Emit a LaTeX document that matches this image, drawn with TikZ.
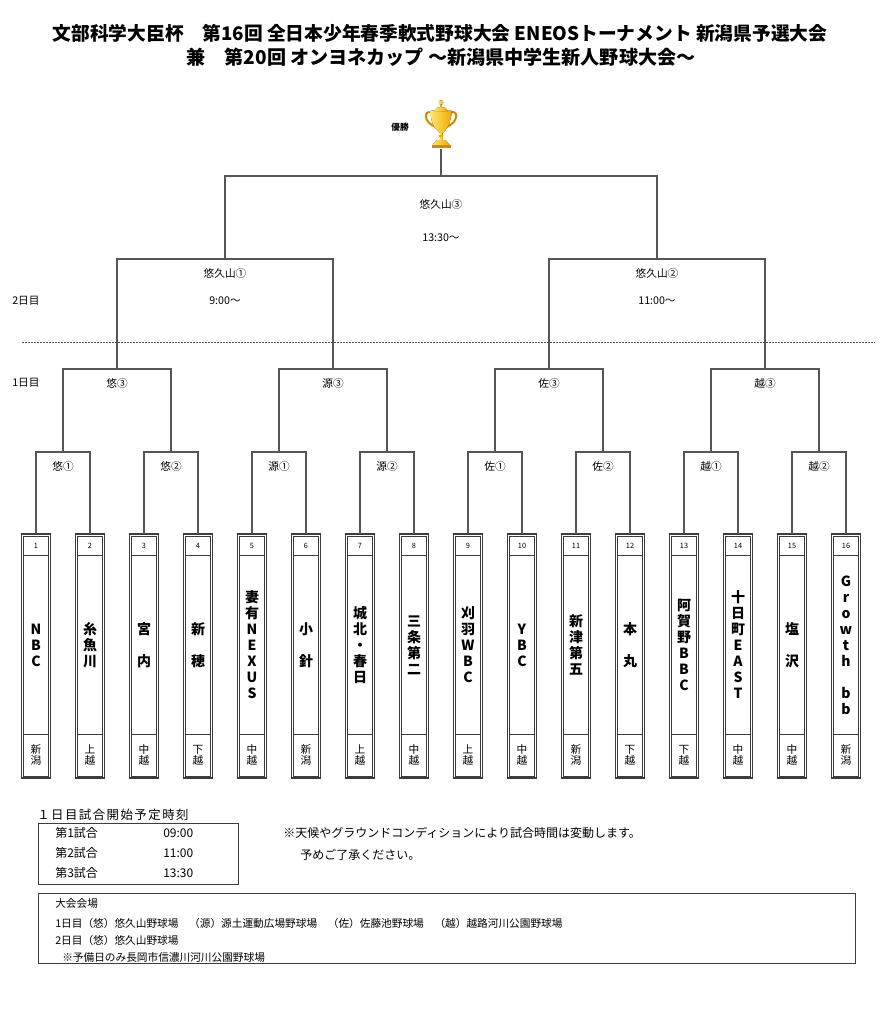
\documentclass[tikz,border=0pt]{standalone}
\usepackage{fontspec}
\setmainfont{Noto Sans CJK JP}
\definecolor{brk}{RGB}{85,85,85}
\definecolor{boxc}{RGB}{60,60,60}
\definecolor{goldA}{RGB}{255,228,110}
\definecolor{goldB}{RGB}{240,170,0}
\definecolor{goldC}{RGB}{215,135,0}
\tikzset{
 brline/.style={draw=brk, line width=1.1pt},
 tbox/.style={draw=boxc, line width=0.8pt, minimum width=21.75pt, minimum height=183pt, inner sep=0pt, outer sep=0pt},
 tinner/.style={draw=boxc, line width=0.6pt},
 tnum/.style={font=\fontsize{5.5}{6}\selectfont, inner sep=0pt},
 tname/.style={font=\bfseries\fontsize{10.5}{12}\selectfont, align=center, inner sep=0pt},
 tarea/.style={font=\fontsize{8}{8.3}\selectfont, align=center, inner sep=0pt},
 lbl/.style={font=\fontsize{8}{9}\selectfont, inner sep=0pt},
 ttl/.style={font=\bfseries\fontsize{14.3}{16}\selectfont, inner sep=0pt},
 btext/.style={font=\fontsize{9}{10}\selectfont, inner sep=0pt, anchor=west},
 boxframe/.style={draw=boxc, line width=0.75pt, inner sep=0pt},
 goldfill/.style={left color=goldA, right color=goldB, draw=none},
}
\newcommand\teamcell[4]{%
  \node[tbox] (b#1) at (#2,656) {};
  \draw[tinner] (#2-12.5,536) rectangle (#2+12.5,776);
  \draw[tinner] (#2-12.5,555) -- (#2+12.5,555) (#2-12.5,734) -- (#2+12.5,734);
  \node[tnum] (n#1) at (#2,545.5) {#1};
  \node[tname] (t#1) at (#2,645) {#3};
  \node[tarea] (a#1) at (#2,755) {#4};
}
\begin{document}
\begin{tikzpicture}[x=0.75pt,y=-0.75pt]
\useasboundingbox[fill=white] (0,0) rectangle (887,1021);

% title
\node[ttl, font=\bfseries\fontsize{14.05}{16}\selectfont] (title1) at (440,33) {文部科学大臣杯　第16回 全日本少年春季軟式野球大会 ENEOSトーナメント 新潟県予選大会};
\node[ttl] (title2) at (441,57) {兼　第20回 オンヨネカップ ～新潟県中学生新人野球大会～};

% trophy
\node[inner sep=0pt, minimum width=24pt, minimum height=36.75pt] (cup) at (441,124.5) {};
\draw[goldC, line width=1.5pt] (433,113) .. controls (423,108) and (423,123) .. (436,127);
\draw[goldC, line width=1.5pt] (449,113) .. controls (459,108) and (459,123) .. (446,127);
\fill[goldfill] (430.5,110.5) -- (451.5,110.5) .. controls (451.5,124) and (446,130) .. (442.5,133) -- (439.5,133) .. controls (436,130) and (430.5,124) .. (430.5,110.5) -- cycle;
\fill[goldfill] (434,111) .. controls (435,105.5) and (447,105.5) .. (448,111) -- cycle;
\fill[goldB] (440,103) rectangle (442,107);
\fill[goldfill] (441,102.5) circle (2.3);
\fill[goldfill] (439.5,133) rectangle (442.5,140);
\fill[goldB] (441,136) ellipse (2.5 and 1.2);
\fill[goldfill] (436.5,140) -- (445.5,140) -- (449.5,145) -- (432.5,145) -- cycle;
\fill[goldC] (431.5,145) rectangle (450.5,147.5);
\node[font=\bfseries\fontsize{6.5}{7}\selectfont, inner sep=0pt] (yusho) at (400,127) {優勝};

% round labels
\node[lbl] (lf) at (441,204) {悠久山③};
\node[lbl] (lft) at (441,238) {13:30～};
\node[lbl] (ls1) at (225,273) {悠久山①};
\node[lbl] (ls1t) at (225,301) {9:00～};
\node[lbl] (ls2) at (657,273) {悠久山②};
\node[lbl] (ls2t) at (657,301) {11:00～};
\node[lbl, anchor=west] (day2) at (12,301) {2日目};
\node[lbl, anchor=west] (day1) at (12,383) {1日目};
\draw[brk, line width=0.6pt, dash pattern=on 1.5pt off 0.75pt] (22,342) -- (875,342);

\node[lbl] (lq1) at (117,383) {悠③};
\node[lbl] (lq2) at (333,383) {源③};
\node[lbl] (lq3) at (549,383) {佐③};
\node[lbl] (lq4) at (765,383) {越③};
\node[lbl] (lm1) at (63,466) {悠①};
\node[lbl] (lm2) at (171,466) {悠②};
\node[lbl] (lm3) at (279,466) {源①};
\node[lbl] (lm4) at (387,466) {源②};
\node[lbl] (lm5) at (495,466) {佐①};
\node[lbl] (lm6) at (603,466) {佐②};
\node[lbl] (lm7) at (711,466) {越①};
\node[lbl] (lm8) at (819,466) {越②};

% teams
\teamcell{1}{36}{N\\B\\C}{新\\潟}
\teamcell{2}{90}{糸\\魚\\川}{上\\越}
\teamcell{3}{144}{宮\\\mbox{}\\内}{中\\越}
\teamcell{4}{198}{新\\\mbox{}\\穂}{下\\越}
\teamcell{5}{252}{妻\\有\\N\\E\\X\\U\\S}{中\\越}
\teamcell{6}{306}{小\\\mbox{}\\針}{新\\潟}
\teamcell{7}{360}{城\\北\\・\\春\\日}{上\\越}
\teamcell{8}{414}{三\\条\\第\\二}{中\\越}
\teamcell{9}{468}{刈\\羽\\W\\B\\C}{上\\越}
\teamcell{10}{522}{Y\\B\\C}{中\\越}
\teamcell{11}{576}{新\\津\\第\\五}{新\\潟}
\teamcell{12}{630}{本\\\mbox{}\\丸}{下\\越}
\teamcell{13}{684}{阿\\賀\\野\\B\\B\\C}{下\\越}
\teamcell{14}{738}{十\\日\\町\\E\\A\\S\\T}{中\\越}
\teamcell{15}{792}{塩\\\mbox{}\\沢}{中\\越}
\teamcell{16}{846}{G\\r\\o\\w\\t\\h\\\mbox{}\\b\\b}{新\\潟}

% bracket coordinates
\coordinate (m1) at (63,452);  \coordinate (m2) at (171,452);
\coordinate (m3) at (279,452); \coordinate (m4) at (387,452);
\coordinate (m5) at (495,452); \coordinate (m6) at (603,452);
\coordinate (m7) at (711,452); \coordinate (m8) at (819,452);
\coordinate (q1) at (117,369); \coordinate (q2) at (333,369);
\coordinate (q3) at (549,369); \coordinate (q4) at (765,369);
\coordinate (s1) at (225,259); \coordinate (s2) at (657,259);
\coordinate (fin) at (441,176);

\draw[brline] (b1.north) |- (m1) -| (b2.north);
\draw[brline] (b3.north) |- (m2) -| (b4.north);
\draw[brline] (b5.north) |- (m3) -| (b6.north);
\draw[brline] (b7.north) |- (m4) -| (b8.north);
\draw[brline] (b9.north) |- (m5) -| (b10.north);
\draw[brline] (b11.north) |- (m6) -| (b12.north);
\draw[brline] (b13.north) |- (m7) -| (b14.north);
\draw[brline] (b15.north) |- (m8) -| (b16.north);
\draw[brline] (m1) |- (q1) -| (m2);
\draw[brline] (m3) |- (q2) -| (m4);
\draw[brline] (m5) |- (q3) -| (m6);
\draw[brline] (m7) |- (q4) -| (m8);
\draw[brline] (q1) |- (s1) -| (q2);
\draw[brline] (q3) |- (s2) -| (q4);
\draw[brline] (s1) |- (fin) -| (s2);
\draw[brline] (fin) -- (cup.south);

% bottom: timetable
\node[btext, font=\fontsize{9.3}{10}\selectfont\addfontfeature{LetterSpace=12}] (tthead) at (37,815) {１日目試合開始予定時刻};
\node[boxframe, minimum width=150pt, minimum height=45.75pt] (ttbox) at (138,853.5) {};
\node[btext] (r1) at (55,833) {第1試合};
\node[btext] (r1t) at (163,833) {09:00};
\node[btext] (r2) at (55,853) {第2試合};
\node[btext] (r2t) at (163,853) {11:00};
\node[btext] (r3) at (55,873) {第3試合};
\node[btext] (r3t) at (163,873) {13:30};
\node[btext] (note1) at (283,833) {※天候やグラウンドコンディションにより試合時間は変動します。};
\node[btext] (note2) at (300,855) {予めご了承ください。};

% venue
\node[boxframe, minimum width=612.75pt, minimum height=52.5pt] (vbox) at (446.5,928) {};
\node[btext, font=\fontsize{8}{9}\selectfont] (v0) at (55,903) {大会会場};
\node[btext, font=\fontsize{8}{9}\selectfont] (v1) at (55,923) {1日目（悠）悠久山野球場　（源）源土運動広場野球場　（佐）佐藤池野球場　（越）越路河川公園野球場};
\node[btext, font=\fontsize{8}{9}\selectfont] (v2) at (55,940) {2日目（悠）悠久山野球場};
\node[btext, font=\fontsize{8}{9}\selectfont] (v3) at (62,957) {※予備日のみ長岡市信濃川河川公園野球場};
\end{tikzpicture}
\end{document}
